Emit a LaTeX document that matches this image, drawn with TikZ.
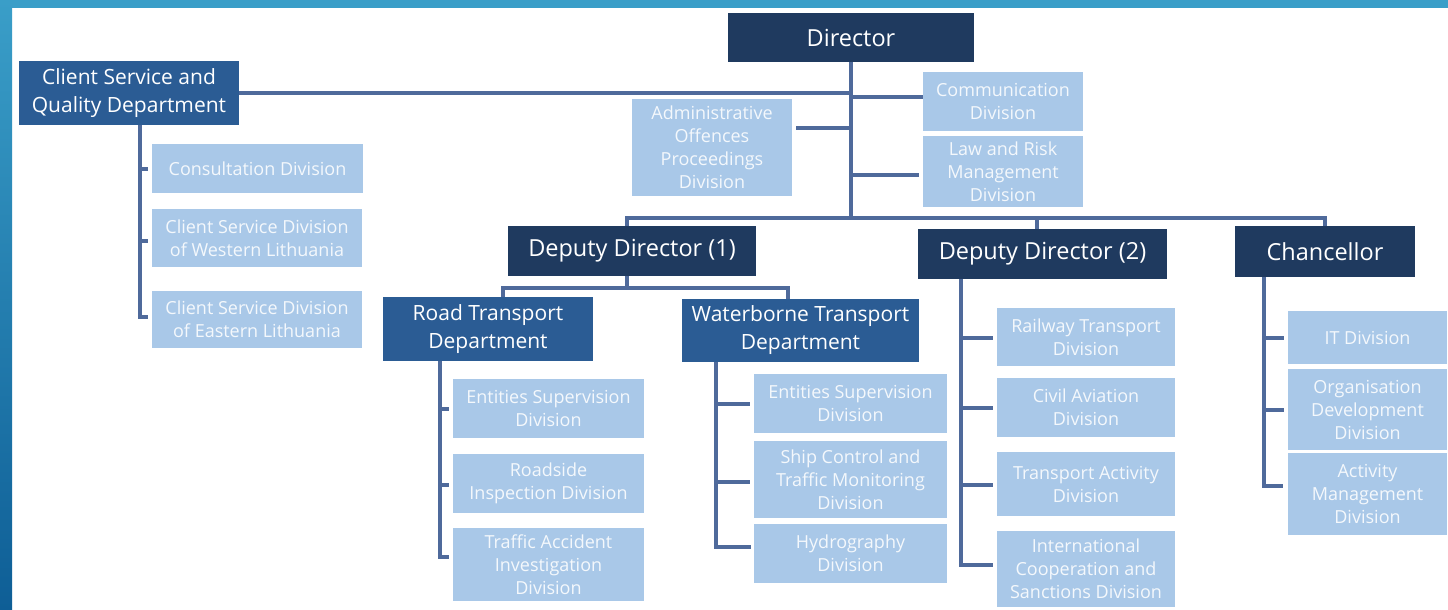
\documentclass[tikz,border=0pt]{standalone}
\usepackage{fontspec}
\setmainfont{Open Sans}
\usetikzlibrary{calc}
\definecolor{navy}{HTML}{1F3A5F}
\definecolor{midblue}{HTML}{2B5C94}
\definecolor{lightbox}{HTML}{A9C8E8}
\definecolor{linecol}{HTML}{4F6A9B}
\definecolor{frametop}{HTML}{3A9EC8}
\definecolor{framebot}{HTML}{0E5E96}
\definecolor{lighttext}{HTML}{F4F8FC}
\begin{document}
\begin{tikzpicture}[x=1pt,y=-1pt,
  box/.style={rectangle, inner sep=0pt, align=center},
  sz/.style 2 args={minimum width=#1pt, minimum height=#2pt},
  topbox/.style={box, fill=navy, text=white, font=\fontsize{23.5}{27}\selectfont},
  deptbox/.style={box, fill=midblue, text=white, font=\fontsize{21}{28}\selectfont},
  divbox/.style={box, fill=lightbox, text=lighttext, font=\fontsize{18}{23}\selectfont},
  conn/.style={draw=linecol, line width=4pt},
  stub/.style={conn, shorten >=4pt}]
% background and frame
\fill[white] (0,0) rectangle (1448,610);
\fill[frametop] (0,0) rectangle (1448,8);
\shade[top color=frametop, bottom color=framebot] (0,0) rectangle (12,610);
\useasboundingbox (0,0) rectangle (1448,610);
% top level
\node[topbox, sz={246}{49}] (dir) at (851,37.5) {Director};
\node[deptbox, sz={220}{64}] (csqd) at (129,93) {Client Service and\\Quality Department};
\node[divbox, sz={211}{49}] (cons) at (257.5,168.5) {Consultation Division};
\node[divbox, sz={210}{58}] (west) at (257,238) {Client Service Division\\of Western Lithuania};
\node[divbox, sz={210}{57}] (east) at (257,319.5) {Client Service Division\\of Eastern Lithuania};
\node[divbox, sz={160}{97}] (admin) at (712,147.5) {Administrative\\Offences\\Proceedings\\Division};
\node[divbox, sz={160}{59}] (comm) at (1003,101.5) {Communication\\Division};
\node[divbox, sz={160}{71}] (law) at (1003,171.5) {Law and Risk\\Management\\Division};
% deputies
\node[topbox, sz={248}{50}] (dd1) at (632,251) {Deputy Director (1)};
\node[topbox, sz={249}{50}] (dd2) at (1042.5,254) {Deputy Director (2)};
\node[topbox, sz={180}{51}] (chan) at (1325,251.5) {Chancellor};
% departments
\node[deptbox, sz={210}{64}] (road) at (488,329) {Road Transport\\Department};
\node[deptbox, sz={237}{63}] (water) at (800.5,330.5) {Waterborne Transport\\Department};
% road divisions
\node[divbox, sz={191}{59}] (r1) at (548.5,408.5) {Entities Supervision\\Division};
\node[divbox, sz={191}{59}] (r2) at (548.5,483.5) {Roadside\\Inspection Division};
\node[divbox, sz={191}{73}] (r3) at (548.5,564.5) {Traffic Accident\\Investigation\\Division};
% waterborne divisions
\node[divbox, sz={193}{59}] (w1) at (850.5,403.5) {Entities Supervision\\Division};
\node[divbox, sz={193}{77}] (w2) at (850.5,479.5) {Ship Control and\\Traffic Monitoring\\Division};
\node[divbox, sz={193}{59}] (w3) at (850.5,553.5) {Hydrography\\Division};
% deputy 2 divisions
\node[divbox, sz={178}{58}] (d1) at (1086,337) {Railway Transport\\Division};
\node[divbox, sz={178}{59}] (d2) at (1086,407.5) {Civil Aviation\\Division};
\node[divbox, sz={178}{64}] (d3) at (1086,484) {Transport Activity\\Division};
\node[divbox, sz={178}{76}] (d4) at (1086,569) {International\\Cooperation and\\Sanctions Division};
% chancellor divisions
\node[divbox, sz={159}{53}] (c1) at (1367.5,337.5) {IT Division};
\node[divbox, sz={159}{81}] (c2) at (1367.5,409.5) {Organisation\\Development\\Division};
\node[divbox, sz={159}{82}] (c3) at (1367.5,494) {Activity\\Management\\Division};
% ---------- connectors ----------
% director trunk and bus
\coordinate (bus) at ($(dir.south)+(0,156)$);
\draw[conn] (dir.south) -- (bus);
\draw[conn] (csqd.east) -- (csqd.east -| dir.south);
\coordinate (adm) at ($(admin.east)+(0,-19.5)$);
\draw[stub] (adm -| dir.south) -- (adm);
\coordinate (cm) at ($(comm.west)+(0,-4.5)$);
\draw[conn] (cm -| dir.south) -- (cm);
\coordinate (lw) at ($(law.west)+(0,3.5)$);
\draw[stub] (lw -| dir.south) -- (lw);
\coordinate (dd1t) at ($(dd1.north)+(-5,0)$);
\coordinate (dd2t) at ($(dd2.north)+(-5.5,0)$);
\draw[conn] (dd1t) |- (chan.north |- bus) -- (chan.north);
\draw[conn] (dd2t) -- (dd2t |- bus);
% client service branch
\coordinate (cv) at ($(csqd.south)+(11,0)$);
\coordinate (es) at ($(east.west)+(0,-2.5)$);
\coordinate (ws) at ($(west.west)+(0,3)$);
\draw[conn, shorten >=4pt] (cv) |- (es);
\draw[stub] (cons.west -| cv) -- (cons.west);
\draw[stub] (ws -| cv) -- (ws);
% deputy 1 to departments
\coordinate (dd1b) at ($(dd1.south)+(-5,0)$);
\coordinate (sub1) at ($(dd1b)+(0,12)$);
\coordinate (roadt) at ($(road.north)+(15,0)$);
\coordinate (watert) at ($(water.north)+(-12.5,0)$);
\draw[conn] (dd1b) -- (sub1);
\draw[conn] (roadt) |- (sub1 -| watert) -- (watert);
% road branch
\coordinate (rv) at ($(road.south)+(-48,0)$);
\coordinate (r2s) at ($(r2.west)+(0,1.5)$);
\coordinate (r3s) at ($(r3.west)+(0,-7.5)$);
\draw[conn, shorten >=4pt] (rv) |- (r3s);
\draw[stub] (r1.west -| rv) -- (r1.west);
\draw[stub] (r2s -| rv) -- (r2s);
% waterborne branch
\coordinate (wv) at ($(water.south)+(-84.5,0)$);
\coordinate (w2s) at ($(w2.west)+(0,2.5)$);
\coordinate (w3s) at ($(w3.west)+(0,-6.5)$);
\draw[conn, shorten >=3pt] (wv) |- (w3s);
\draw[stub] (w1.west -| wv) -- (w1.west);
\draw[stub] (w2s -| wv) -- (w2s);
% deputy 2 branch
\coordinate (dv) at ($(dd2.south)+(-81.5,0)$);
\coordinate (d1s) at ($(d1.west)+(0,1)$);
\coordinate (d3s) at ($(d3.west)+(0,1)$);
\coordinate (d4s) at ($(d4.west)+(0,-4)$);
\draw[conn, shorten >=4pt] (dv) |- (d4s);
\draw[stub] (d1s -| dv) -- (d1s);
\draw[stub] (d2.west -| dv) -- (d2.west);
\draw[stub] (d3s -| dv) -- (d3s);
% chancellor branch
\coordinate (chv) at ($(chan.south)+(-61,0)$);
\coordinate (c3s) at ($(c3.west)+(0,-8)$);
\draw[conn, shorten >=5pt] (chv) |- (c3s);
\draw[stub] (c1.west -| chv) -- (c1.west);
\draw[stub] (c2.west -| chv) -- (c2.west);
\end{tikzpicture}
\end{document}
